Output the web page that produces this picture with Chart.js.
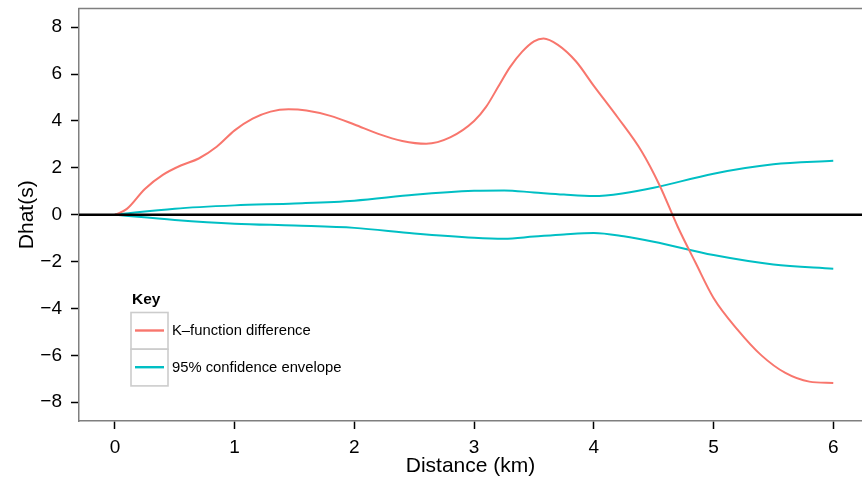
<!DOCTYPE html>
<html>
<head>
<meta charset="utf-8">
<script src="https://cdn.jsdelivr.net/npm/chart.js@4.4.1/dist/chart.umd.min.js"></script>
<style>
  html, body { margin: 0; padding: 0; background: #fff; overflow: hidden; }
</style>
</head>
<body>
<canvas id="myChart" width="862" height="477"></canvas>
<script>
// distance (km) where the K-function difference was read
const kDist = [0, 0.1, 0.25, 0.4, 0.55, 0.7, 0.85, 1.0, 1.15, 1.3, 1.45, 1.6, 1.8, 2.0, 2.2, 2.4, 2.6, 2.8,
  3.0, 3.1, 3.2, 3.3, 3.4, 3.5, 3.58, 3.7, 3.85, 4.0, 4.2, 4.4, 4.55, 4.7, 4.85, 5.0, 5.2, 5.4, 5.6, 5.8, 6.0];
const kDiff = [0, 0.25, 1.1, 1.7, 2.1, 2.4, 2.9, 3.6, 4.1, 4.4, 4.5, 4.45, 4.22, 3.85, 3.45, 3.15, 3.03, 3.3,
  4.0, 4.6, 5.45, 6.3, 6.95, 7.4, 7.52, 7.25, 6.55, 5.5, 4.15, 2.7, 1.25, -0.5, -2.05, -3.55, -4.9, -6.0, -6.75, -7.12, -7.18];

// confidence envelope
const envDist = [0, 0.5, 1, 1.5, 2, 2.5, 3, 3.25, 3.5, 3.75, 4, 4.25, 4.5, 5, 5.5, 6];
const envUpper = [0, 0.26, 0.4, 0.48, 0.6, 0.85, 1.02, 1.04, 0.95, 0.86, 0.8, 0.92, 1.15, 1.75, 2.15, 2.3];
const envLower = [0, -0.22, -0.38, -0.46, -0.56, -0.8, -0.98, -1.02, -0.93, -0.84, -0.78, -0.92, -1.15, -1.72, -2.12, -2.3];

const xRange = [-0.3, 6.24];
const yRange = [-8.8, 8.8];

const RED = '#F8766D';
const CYAN = '#00BFC4';
const AXIS_GREY = '#7f7f7f';
const FONT = 'Liberation Sans, Arial, Helvetica, sans-serif';

const toPoints = (xs, ys) => xs.map((x, i) => ({ x, y: ys[i] }));

// top border of the panel and the boxed "Key" legend
const keyPlugin = {
  id: 'key',
  afterDraw(chart) {
    const { ctx, chartArea } = chart;
    ctx.save();
    ctx.strokeStyle = AXIS_GREY;
    ctx.lineWidth = 1.5;
    ctx.beginPath();
    ctx.moveTo(chartArea.left - 0.75, chartArea.top);
    ctx.lineTo(chartArea.right, chartArea.top);
    ctx.stroke();

    const seen = [];
    chart.data.datasets.forEach((ds) => {
      if (ds.inKey && !seen.find((s) => s.label === ds.label)) seen.push(ds);
    });
    const left = chartArea.left + 52;
    let top = chartArea.top + 304;
    ctx.fillStyle = '#000';
    ctx.font = 'bold 15.5px ' + FONT;
    ctx.textBaseline = 'alphabetic';
    ctx.fillText('Key', left + 1, top - 9);
    seen.forEach((ds) => {
      ctx.strokeStyle = '#cccccc';
      ctx.lineWidth = 1.6;
      ctx.strokeRect(left, top, 37, 36.7);
      ctx.strokeStyle = ds.borderColor;
      ctx.lineWidth = 2.4;
      ctx.beginPath();
      ctx.moveTo(left + 4, top + 18);
      ctx.lineTo(left + 33, top + 18);
      ctx.stroke();
      ctx.fillStyle = '#000';
      ctx.font = '14.8px ' + FONT;
      ctx.textBaseline = 'middle';
      ctx.fillText(ds.label, left + 41, top + 18.5);
      top += 36.7;
    });
    ctx.restore();
  },
};

const axisFont = { family: FONT, size: 19 };
const titleFont = { family: FONT, size: 21, lineHeight: 1 };

const ctx = document.getElementById('myChart').getContext('2d');
const chart = new Chart(ctx, {
  type: 'line',
  data: {
    datasets: [
      {
        label: 'zero',
        data: toPoints(xRange, [0, 0]),
        borderColor: '#000',
        borderWidth: 2.4,
      },
      {
        label: 'K\u2013function difference',
        data: toPoints(kDist, kDiff),
        borderColor: RED,
        inKey: true,
      },
      {
        label: '95% confidence envelope',
        data: toPoints(envDist, envUpper),
        borderColor: CYAN,
        inKey: true,
      },
      {
        label: '95% confidence envelope',
        data: toPoints(envDist, envLower),
        borderColor: CYAN,
        inKey: true,
      },
    ],
  },
  options: {
    responsive: false,
    animation: false,
    layout: { padding: { top: 8.5, right: 0, left: 0, bottom: 0 } },
    plugins: { legend: { display: false }, tooltip: { enabled: false } },
    elements: {
      point: { radius: 0 },
      line: { borderWidth: 2, cubicInterpolationMode: 'monotone', fill: false },
    },
    scales: {
      x: {
        type: 'linear',
        min: xRange[0],
        max: xRange[1],
        border: { color: AXIS_GREY, width: 1.5 },
        grid: { drawOnChartArea: false, tickLength: 8, tickColor: '#000', tickWidth: 1.5 },
        ticks: { stepSize: 1, includeBounds: false, color: '#000', font: axisFont, padding: 7, maxRotation: 0 },
        title: { display: true, text: 'Distance (km)', color: '#000', font: titleFont, padding: { top: 0, bottom: 0 } },
        afterFit(scale) {
          scale.height = 56;
          scale.paddingLeft = 0;
          scale.paddingRight = 0;
        },
      },
      y: {
        min: yRange[0],
        max: yRange[1],
        border: { color: AXIS_GREY, width: 1.5 },
        grid: { drawOnChartArea: false, tickLength: 8, tickColor: '#000', tickWidth: 1.5 },
        ticks: {
          stepSize: 2,
          includeBounds: false,
          color: '#000',
          font: axisFont,
          padding: 9,
          callback: (v) => (v < 0 ? '\u2212' + Math.abs(v) : String(v)),
        },
        title: { display: true, text: 'Dhat(s)', color: '#000', font: titleFont, padding: { top: 17, bottom: 0 } },
        afterFit(scale) {
          scale.width = 79;
          scale.paddingTop = 0;
          scale.paddingBottom = 0;
        },
      },
    },
  },
  plugins: [keyPlugin],
});
</script>
</body>
</html>
